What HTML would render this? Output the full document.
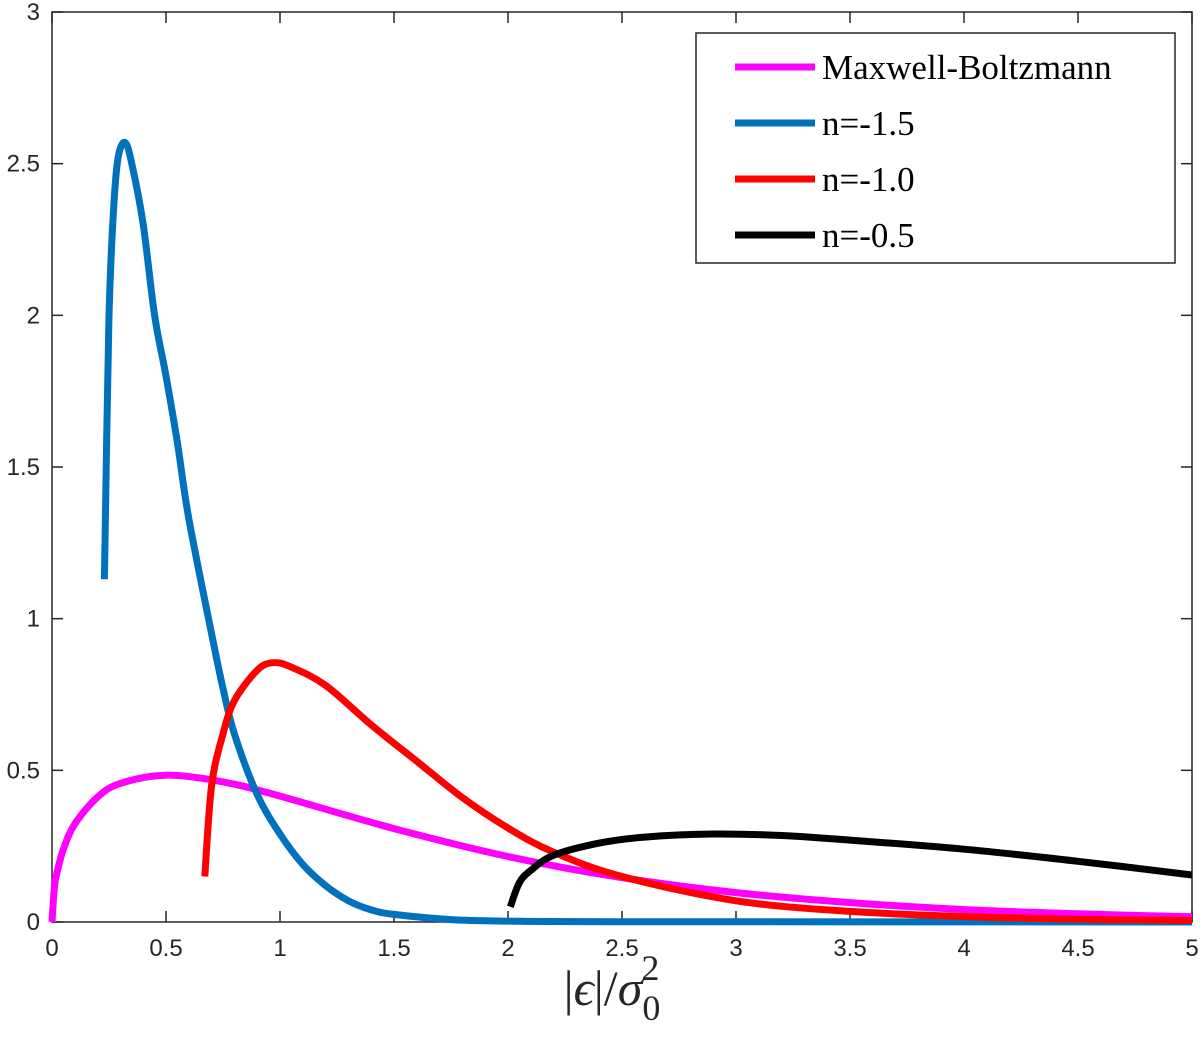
<!DOCTYPE html>
<html><head><meta charset="utf-8"><style>
body{margin:0;background:#fff;}
svg text{font-family:"Liberation Sans",sans-serif;}
</style></head><body>
<svg id="c" width="1200" height="1045" xmlns="http://www.w3.org/2000/svg"></svg>
<script>
const xTicks=[0,0.5,1,1.5,2,2.5,3,3.5,4,4.5,5];
const xTickLabels=["0","0.5","1","1.5","2","2.5","3","3.5","4","4.5","5"];
const yTicks=[0,0.5,1,1.5,2,2.5,3];
const yTickLabels=["0","0.5","1","1.5","2","2.5","3"];
const mbX=[0,0.01,0.02,0.05,0.1,0.2,0.3,0.5,0.75,1,1.5,2,2.5,3,3.5,4,4.5,5];
const mbY=[0,0.11,0.157,0.24,0.323,0.412,0.457,0.484,0.462,0.415,0.308,0.216,0.146,0.097,0.064,0.041,0.027,0.017];
const b15X=[0.23,0.24,0.25,0.27,0.29,0.32,0.35,0.4,0.45,0.5,0.55,0.6,0.7,0.75,0.8,0.9,1.0,1.1,1.2,1.3,1.4,1.5,1.75,2,2.5,5];
const b15Y=[1.13,1.6,2.0,2.35,2.52,2.57,2.5,2.3,2.0,1.8,1.58,1.33,0.95,0.77,0.62,0.42,0.29,0.19,0.12,0.07,0.04,0.025,0.008,0.003,0.001,0];
const r10X=[0.67,0.7,0.75,0.8,0.9,0.97,1.05,1.2,1.4,1.6,1.8,2.0,2.2,2.5,3,3.5,4,4.5,5];
const r10Y=[0.15,0.45,0.62,0.73,0.83,0.855,0.84,0.78,0.65,0.53,0.41,0.31,0.23,0.15,0.07,0.035,0.018,0.009,0.005];
const k05X=[2.01,2.05,2.1,2.2,2.4,2.6,2.9,3.2,3.5,4,4.5,5];
const k05Y=[0.05,0.13,0.17,0.22,0.26,0.28,0.29,0.285,0.27,0.24,0.2,0.155];

const L=52,R=1192,T=12,B=922;
const sx=v=>L+(v-0)/5*(R-L);
const sy=v=>B-(v-0)/3*(B-T);
const svg=document.getElementById('c');
const NS="http://www.w3.org/2000/svg";
function mk(tag,attrs,parent){const e=document.createElementNS(NS,tag);for(const k in attrs)e.setAttribute(k,attrs[k]);(parent||svg).appendChild(e);return e;}

const box=mk('rect',{x:L,y:T,width:R-L,height:B-T,fill:'none',stroke:'#262626','stroke-width':1.5});


xTicks.forEach((t,i)=>{
  const x=sx(t);
  mk('line',{x1:x,y1:B,x2:x,y2:B-11,stroke:'#262626','stroke-width':1.5});
  mk('line',{x1:x,y1:T,x2:x,y2:T+11,stroke:'#262626','stroke-width':1.5});
  const tx=mk('text',{x:x,y:B+34,'text-anchor':'middle','font-size':24,fill:'#262626'});
  tx.textContent=xTickLabels[i];
  
  
});
yTicks.forEach((t,i)=>{
  const y=sy(t);
  mk('line',{x1:L,y1:y,x2:L+11,y2:y,stroke:'#262626','stroke-width':1.5});
  mk('line',{x1:R,y1:y,x2:R-11,y2:y,stroke:'#262626','stroke-width':1.5});
  const tx=mk('text',{x:L-12,y:y+8,'text-anchor':'end','font-size':24,fill:'#262626'});
  tx.textContent=yTickLabels[i];
  
  
});
function series(xs,ys,color,name){
  const P=xs.map((x,i)=>[sx(x),sy(ys[i])]);
  let d='M'+P[0][0].toFixed(1)+','+P[0][1].toFixed(1);
  for(let i=0;i<P.length-1;i++){
    const p0=P[Math.max(0,i-1)],p1=P[i],p2=P[i+1],p3=P[Math.min(P.length-1,i+2)];
    const c1=[p1[0]+(p2[0]-p0[0])/6,p1[1]+(p2[1]-p0[1])/6];
    const c2=[p2[0]-(p3[0]-p1[0])/6,p2[1]-(p3[1]-p1[1])/6];
    d+=' C'+c1[0].toFixed(1)+','+c1[1].toFixed(1)+' '+c2[0].toFixed(1)+','+c2[1].toFixed(1)+' '+p2[0].toFixed(1)+','+p2[1].toFixed(1);
  }
  const p=mk('path',{d:d,fill:'none',stroke:color,'stroke-width':7,'stroke-linejoin':'round'});
  
  
}
series(mbX,mbY,'#ff00ff','series-maxwell-boltzmann');
series(b15X,b15Y,'#0072bd','series-n-minus-1-5');
series(r10X,r10Y,'#ff0000','series-n-minus-1-0');
series(k05X,k05Y,'#000000','series-n-minus-0-5');

const lg=mk('g',{});


mk('rect',{x:696,y:33,width:479,height:230,fill:'#fff',stroke:'#262626','stroke-width':1.5},lg);
const legNames=["Maxwell-Boltzmann","n=-1.5","n=-1.0","n=-0.5"];
const legColors=['#ff00ff','#0072bd','#ff0000','#000000'];
legNames.forEach((n,i)=>{
  const y=67+i*56;
  const g=mk('g',{},lg);
  
  
  mk('line',{x1:735,y1:y,x2:815,y2:y,stroke:legColors[i],'stroke-width':7},g);
  const t=mk('text',{x:822,y:y+12,'font-size':35,fill:'#000'},g);
  t.setAttribute('style','font-family:"Liberation Serif",serif');
  t.textContent=n;
});
const xl=mk('text',{x:612,y:1005,'text-anchor':'middle','font-size':50,fill:'#262626'});
xl.setAttribute('style','font-family:"Liberation Serif",serif');


xl.innerHTML='|<tspan font-style="italic">ϵ</tspan>|/<tspan font-style="italic">σ</tspan><tspan font-size="36" dy="15">0</tspan><tspan font-size="36" dx="-19" dy="-40">2</tspan>';
</script>
</body></html>
